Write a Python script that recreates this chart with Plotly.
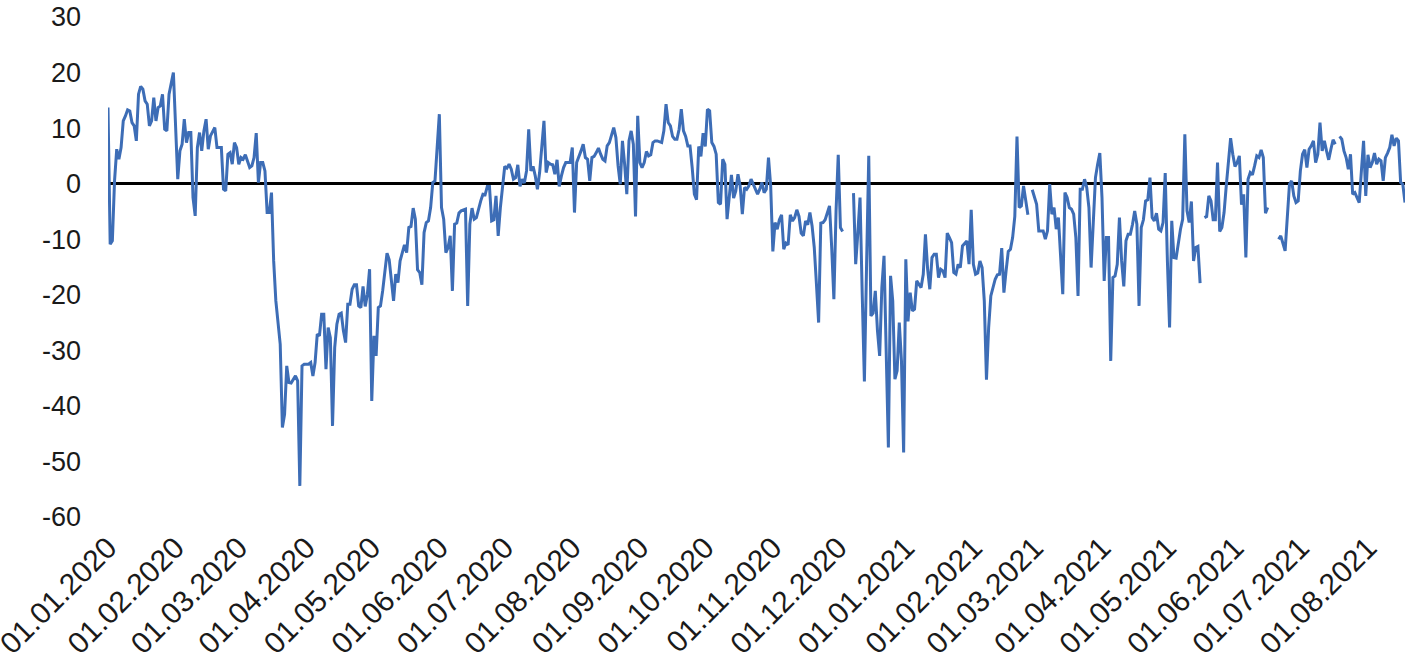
import pandas as pd
import plotly.graph_objects as go

START_DATE = "2020-01-01"
END_DATE = "2021-08-18"

# day offsets from START_DATE (None = break in the series)
day_offset = [
    0, 1, 2, 3, 4, 5, 6, 7, 8, 9, 10, 11, 12, 13, 14, 15, 16, 17, 18, 19, 20, 21, 22, 23, 24, 25, 26, 27, 28, 30,
    32, 33, 34, 35, 36, 37, 38, 39, 40, 41, 42, 43, 44, 45, 46, 47, 49, 50, 52, 53, 54, 55, 56, 57, 58, 59, 60, 61,
    62, 63, 65, 66, 67, 68, 69, 70, 71, 72, 73, 74, 75, 76, 77, 79, 80, 81, 82, 83, 84, 86, 87, 88, 89, 90, 92, 93,
    94, 95, 96, 97, 98, 99, 100, 101, 102, 103, 104, 105, 106, 107, 108, 109, 110, 111, 112, 113, 114, 115, 116,
    117, 118, 119, 120, 121, 122, 123, 124, 125, 126, 127, 128, 129, 130, 131, 132, 133, 134, 135, 136, 137, 138,
    139, 140, 141, 142, 143, 144, 145, 146, 147, 148, 149, 150, 152, 153, 154, 155, 156, 157, 158, 159, 160, 161,
    162, 164, 165, 166, 167, 168, 169, 170, 171, 172, 173, 174, 175, 176, 177, 178, 179, 180, 181, 182, 183, 184,
    185, 186, 187, 188, 189, 190, 191, 192, 193, 194, 195, 196, 197, 198, 200, 201, 202, 203, 204, 205, 206, 207,
    208, 209, 210, 212, 213, 214, 215, 216, 217, 218, 219, 220, 221, 222, 223, 224, 225, 226, 227, 228, 229, 230,
    231, 232, 233, 234, 235, 236, 237, 238, 239, 240, 241, 242, 243, 244, 245, 246, 247, 248, 249, 250, 251, 252,
    254, 255, 256, 257, 258, 259, 260, 261, 262, 263, 264, 265, 266, 267, 268, 269, 270, 271, 272, 273, 274, 275,
    276, 277, 278, 279, 280, 281, 282, 283, 284, 285, 286, 287, 288, 289, 290, 291, 292, 293, 294, 295, 296, 298,
    299, 300, 301, 302, 303, 304, 305, 306, 307, 308, 309, 310, 311, 312, 313, 314, 315, 316, 317, 318, 319, 320,
    321, 322, 323, 324, 325, 326, 327, 328, 329, 330, 331, 332, 333, 334, 335, 336, 337, 338,
    342, 343, 344, 345, 346, 347, 348, 349, 350, 351, 352, 353, 354, 355, 356, 357, 358, 359, 360, 361, 362, 363,
    364, 365, 366, 367, 368, 369, 370, 371, 372, 373, 374, 375, 376, 377, 378, 379, 380, 381, 382, 383, 384, 385,
    386, 387, 388, 389, 390, 391, 392, 393, 394, 395, 396, 397, 398, 399, 400, 401, 402, 403, 404, 405, 406, 407,
    408, 409, 410, 411, 412, 413, 414, 415, 416, 417, 418, 419, 420, 421, 422, 423,
    424, 426, 427, 429, 430, 431, 432, 433, 434, 435, 436, 437, 438, 439, 440, 441, 442, 443, 444, 445, 446, 447,
    448, 449, 450, 451, 452, 453, 454, 455, 456, 457, 458, 459, 460, 461, 462, 463, 464, 465, 466, 467, 468, 469,
    470, 471, 472, 473, 474, 475, 476, 477, 478, 479, 480, 481, 482, 483, 484, 485, 486, 487, 488, 489, 490, 491,
    492, 493, 494, 495, 496, 497, 498, 499, 500, 501, 502,
    503, 504, 505, 506, 507, 508, 509, 510, 511, 512, 513, 514, 515, 516, 517, 518, 519, 520, 521, 522, 523, 524,
    525, 526, 527, 528, 529, 530, 531, 532, 533,
    537, 538, 540, 541, 542, 543, 544, 545, 546, 547, 548, 549, 550, 551, 552, 553, 554, 555, 556, 557, 558, 559,
    560, 561, 562, 563, 564,
    565, 566, 567, 568, 569, 570, 571, 572, 573, 574, 575, 576, 577, 578, 579, 580, 581, 582, 583, 584, 585, 586,
    587, 588, 589, 590, 591, 592, 593, 594, 595,
]

values = [
    13.7, -10.9, -10.3, 0.5, 6.2, 4.4, 6.5, 11.3, 12.2, 13.3, 13.1, 11.0, 10.4, 7.7, 16.1, 17.5, 17.0, 14.9, 14.3,
    10.4, 11.3, 15.5, 11.3, 13.7, 14.0, 16.1, 9.8, 9.5, 16.1, 20.0,
    0.8, 5.9, 7.1, 11.6, 7.4, 9.2, 9.2, -2.5, -5.8, 6.5, 9.2, 5.9, 9.5, 11.6, 6.2, 8.6, 10.1, 6.5, 6.5, -1.0, -1.3,
    5.3, 5.6, 3.5, 7.4, 6.5, 3.5, 4.7,
    4.4, 5.2, 2.9, 3.2, 4.7, 9.1, 0.2, 3.8, 3.8, 2.3, -5.2, -5.2, -1.6, -13.9, -21.1, -28.9, -43.9, -41.5, -32.8,
    -35.8, -35.9, -34.6, -35.5, -54.4, -32.8, -32.5, -32.5, -32.2,
    -34.6, -32.2, -27.1, -27.4, -23.5, -23.5, -33.4, -25.9, -27.7, -43.6, -29.5, -25.3, -23.5, -23.3, -26.5, -28.6,
    -21.7, -21.7, -19.0, -18.2, -18.2, -22.0, -22.3,
    -18.5, -22.1, -19.9, -15.4, -39.1, -27.4, -31.0, -22.3, -22.0, -19.3, -16.0, -12.5, -13.7, -17.8, -21.1, -16.3,
    -17.8, -13.9, -12.5, -11.0, -12.4, -7.9,
    -7.7, -4.4, -6.4, -15.5, -16.0, -18.2, -8.8, -7.0, -6.7, -4.3, 0.2, 0.5, 12.5, -4.3, -6.4, -12.4, -11.5, -9.4,
    -19.3, -7.3, -7.1, -5.3,
    -4.9, -4.6, -22.0, -7.3, -4.4, -6.4, -6.1, -4.3, -3.1, -1.9, -2.0, -0.5, -0.5, -6.7, -6.5, -2.2, -9.4, -4.3,
    -0.4, 3.1, 2.8, 3.5,
    2.6, 0.8, 1.1, 3.4, -0.5, 0.8, 0.1, 2.3, 9.8, 2.3, 3.1, 1.4, -1.0, 2.0, 11.3, 2.0, 3.8, 3.5, 3.4, 1.7, 4.3, -0.5,
    1.4, 2.9, 3.8, 3.8, 6.5, -5.2, 3.8, 4.7, 5.9, 7.1, 4.7, 4.4, 0.5, 4.7, 4.9, 5.6, 6.4, 5.3, 4.4, 4.1, 6.8, 7.4,
    8.6, 10.1, 8.3, 3.2, -0.1, 7.7, 3.5, -1.9, 7.7, 9.5, 7.1, -5.9, 12.2, 3.8, 2.9, 3.8, 5.8, 5.0, 5.2, 7.4, 7.7, 7.7,
    7.4, 9.5, 14.3, 11.0, 10.4, 8.5, 8.0, 8.0, 9.8, 13.4, 9.5, 8.5, 6.8, 6.8, 2.9, -1.9, -2.9, 6.7, 4.9, 9.1, 6.7,
    13.4,
    13.1, 7.4, 6.7, 5.3, -3.4, -3.7, 4.4, 3.5, -6.4, -1.6, 1.6, -2.6, -1.3, 1.7, -0.4, -5.5, -0.7, -1.0, -0.4, 0.8,
    -0.1, -1.9,
    -1.0, 0.2, -1.6, -1.0, 4.7, -0.4, -12.2, -7.0, -8.2, -6.5, -5.6, -11.8, -10.7, -11.0, -5.6, -6.7, -6.1, -4.7,
    -5.9, -8.9, -9.4, -6.7,
    -7.4, -5.2, -7.6, -11.5, -18.1, -25.0, -7.1, -7.0, -6.5, -5.2, -4.0, -11.5, -20.8, -4.9, 5.2, -7.9, -8.6, None,
    -1.7, -14.5, -8.8, -2.5, -19.9, -35.6, -14.5, 5.0, -23.8, -23.3, -19.3, -26.5, -31.0, -18.7, -13.0, -28.3,
    -47.5, -16.6, -21.1, -35.2, -33.7, -25.0,
    -31.9, -48.4, -13.6, -24.8, -19.6, -22.9, -22.6, -17.5, -18.1, -18.7, -16.3, -9.1, -15.4, -19.0, -13.3, -12.7,
    -12.7, -16.9, -15.4, -15.7, -16.9, -8.9,
    -9.7, -10.6, -16.0, -16.3, -14.5, -15.1, -11.2, -10.7, -10.3, -14.5, -4.7, -14.5, -16.3, -16.1, -13.9, -15.1,
    -21.1, -35.3, -25.9, -20.2, -18.7, -17.2,
    -16.4, -16.3, -11.6, -19.6, -15.7, -12.2, -11.8, -9.7, -5.9, 8.5, -4.3, -4.0, -0.4, -3.1, -5.6, None,
    -1.1, -3.7, -8.5, -8.5, -10.0, -8.5, -0.1, -5.5, -4.3, -8.2, -6.1, -12.7, -19.9, -1.6, -2.5, -4.3, -4.6, -5.5,
    -9.7, -20.2, -1.0, -1.0,
    0.8, -0.7, -4.3, -15.1, -6.7, 1.1, 3.5, 5.5, -2.5, -17.5, -9.7, -9.7, -31.9, -16.9, -16.6, -14.5, -6.1, -13.9,
    -18.5, -10.3, -9.1, -9.1,
    -7.3, -4.9, -7.3, -22.0, -7.9, -6.5, -3.1, -2.9, 1.1, -6.1, -6.7, -5.3, -8.2, -8.5, -7.0, 1.9, -13.9, -25.9,
    -6.7, -13.3, -13.4, -10.7,
    -8.2, -6.4, 8.9, -4.9, -7.0, -3.2, -13.9, -11.5, -11.3, -17.9, None,
    -6.1, -5.9, -2.2, -3.1, -6.5, -6.5, 3.8, -8.6, -7.9, -5.2, -0.4, 3.8, 8.2, 5.3, 3.1, 3.8, 5.0, -3.8, -1.9,
    -13.3, 0.8, 2.0,
    1.6, 3.2, 5.0, 4.7, 6.1, 4.7, -5.3, -4.3, None,
    -10.0, -9.4, -12.1, -6.7, -0.1, 0.5, -2.2, -3.4, -3.1, 2.3, 5.3, 6.1, 2.9, 6.2, 6.8, 7.7, 3.8, 5.3, 11.0, 5.9,
    7.7, 5.9,
    4.3, 6.2, 7.9, 7.1, None,
    8.5, 8.0, 5.9, 4.7, 2.6, 5.3, -1.9, -1.6, -2.5, -3.4, 2.3, 7.7, -2.2, 5.2, 2.9, 3.8, 5.5, 3.5, 4.4, 4.1, 0.5,
    4.7,
    5.5, 6.5, 8.8, 6.8, 8.2, 7.7, 0.2, -0.1, -3.4,
]

y_ticks = [30, 20, 10, 0, -10, -20, -30, -40, -50, -60]
y_tick_text = [str(v) for v in y_ticks]  # plain hyphen, as in the original

dates = pd.Timestamp(START_DATE) + pd.to_timedelta(day_offset, unit="D")

fig = go.Figure(go.Scatter(
    x=dates, y=values, mode="lines", connectgaps=False,
    line=dict(color="#3D6DB6", width=3), showlegend=False,
))

fig.update_layout(
    width=1406, height=658,
    paper_bgcolor="white", plot_bgcolor="white",
    margin=dict(l=108, r=1, t=17, b=141),
    font=dict(family="Liberation Sans, Arial, sans-serif", color="#1a1a1a"),
    xaxis=dict(
        type="date", range=[START_DATE, END_DATE],
        tick0=START_DATE, dtick="M1", tickformat="%d.%m.%Y",
        tickangle=-45, tickfont=dict(size=30),
        showgrid=False, showline=False, zeroline=False, ticks="",
        ticklabelstandoff=6, automargin=False, ticklabeloverflow="allow",
    ),
    yaxis=dict(
        range=[-60, 30], tickvals=y_ticks, ticktext=y_tick_text,
        tickfont=dict(size=27),
        showgrid=False, showline=False, ticks="",
        zeroline=True, zerolinecolor="black", zerolinewidth=2.6,
        ticklabelstandoff=26, automargin=False, ticklabeloverflow="allow",
    ),
)

# drop the default 8px page margin so the figure fills the window exactly
fig.write_html(
    "out.html",
    config={"displayModeBar": False},
    post_script="document.body.style.margin='0';document.body.style.overflow='hidden';",
)
